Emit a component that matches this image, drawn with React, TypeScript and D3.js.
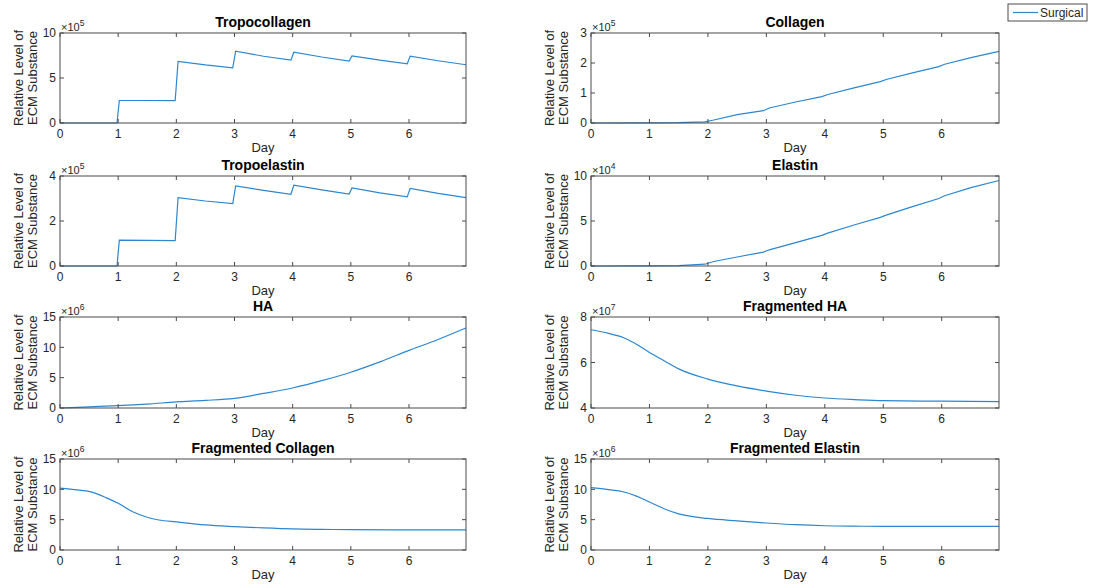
import React from "react";
import * as d3 from "d3";

// ---- Data (values in units of the panel's exponent) ----
const tropocollagenDays = [0, 0.98, 1.02, 1.5, 1.98, 2.03, 2.5, 2.97, 3.02, 3.5, 3.97, 4.02, 4.5, 4.97, 5.02, 5.5, 5.97, 6.02, 6.5, 6.98];
const tropocollagenVals = [0, 0, 2.5, 2.5, 2.48, 6.84, 6.45, 6.14, 7.98, 7.42, 6.99, 7.87, 7.33, 6.88, 7.46, 6.98, 6.58, 7.43, 6.92, 6.47];

const collagenDays = [0, 1, 1.5, 1.95, 2.1, 2.5, 2.95, 3.05, 3.5, 3.95, 4.05, 4.5, 4.95, 5.05, 5.5, 5.95, 6.05, 6.5, 6.98];
const collagenVals = [0, 0.005, 0.012, 0.04, 0.1, 0.28, 0.41, 0.5, 0.7, 0.88, 0.95, 1.17, 1.38, 1.45, 1.67, 1.88, 1.96, 2.18, 2.39];

const tropoelastinDays = [0, 0.98, 1.02, 1.5, 1.98, 2.03, 2.5, 2.97, 3.02, 3.5, 3.97, 4.02, 4.5, 4.97, 5.02, 5.5, 5.97, 6.02, 6.5, 6.98];
const tropoelastinVals = [0, 0, 1.15, 1.14, 1.13, 3.04, 2.89, 2.77, 3.56, 3.36, 3.19, 3.59, 3.38, 3.2, 3.47, 3.25, 3.07, 3.45, 3.23, 3.04];

const elastinDays = [0, 1, 1.5, 1.95, 2.1, 2.5, 2.95, 3.05, 3.5, 3.95, 4.05, 4.5, 4.95, 5.05, 5.5, 5.95, 6.05, 6.5, 6.98];
const elastinVals = [0, 0.02, 0.05, 0.2, 0.5, 1.0, 1.55, 1.8, 2.6, 3.4, 3.65, 4.55, 5.4, 5.65, 6.6, 7.5, 7.8, 8.7, 9.5];

const haDays = [0, 0.5, 1, 1.5, 2, 2.5, 3, 3.5, 4, 4.5, 5, 5.5, 6, 6.5, 6.98];
const haVals = [0, 0.2, 0.39, 0.65, 1.0, 1.25, 1.6, 2.4, 3.3, 4.5, 5.9, 7.6, 9.5, 11.3, 13.2];

const fragHADays = [0, 0.3, 0.55, 0.75, 1, 1.25, 1.5, 2, 2.5, 3, 3.5, 4, 4.5, 5, 6, 6.98];
const fragHAVals = [7.44, 7.28, 7.1, 6.85, 6.44, 6.08, 5.72, 5.27, 4.97, 4.74, 4.56, 4.44, 4.37, 4.32, 4.3, 4.28];

const fragCollagenDays = [0, 0.3, 0.55, 0.8, 1, 1.25, 1.5, 1.7, 2, 2.5, 3, 3.5, 4, 4.5, 5, 6, 6.98];
const fragCollagenVals = [10.2, 9.9, 9.55, 8.6, 7.7, 6.3, 5.4, 4.95, 4.63, 4.14, 3.86, 3.64, 3.47, 3.4, 3.36, 3.31, 3.31];

const fragElastinDays = [0, 0.3, 0.55, 0.8, 1, 1.25, 1.5, 2, 2.5, 3, 3.5, 4, 4.5, 5, 6, 6.98];
const fragElastinVals = [10.28, 9.95, 9.6, 8.8, 7.9, 6.8, 5.95, 5.2, 4.8, 4.45, 4.17, 4.0, 3.93, 3.9, 3.9, 3.9];

const xTicks = [0, 1, 2, 3, 4, 5, 6];
const legendLabel = "Surgical";

type Panel = {
  title: string;
  days: number[];
  vals: number[];
  yDomain: [number, number];
  yTicks: number[];
  exponent: string;
  col: number;
  row: number;
  smooth: boolean;
};

const panels: Panel[] = [
  { title: "Tropocollagen", days: tropocollagenDays, vals: tropocollagenVals, yDomain: [0, 10], yTicks: [0, 5, 10], exponent: "5", col: 0, row: 0, smooth: false },
  { title: "Collagen", days: collagenDays, vals: collagenVals, yDomain: [0, 3], yTicks: [0, 1, 2, 3], exponent: "5", col: 1, row: 0, smooth: false },
  { title: "Tropoelastin", days: tropoelastinDays, vals: tropoelastinVals, yDomain: [0, 4], yTicks: [0, 2, 4], exponent: "5", col: 0, row: 1, smooth: false },
  { title: "Elastin", days: elastinDays, vals: elastinVals, yDomain: [0, 10], yTicks: [0, 5, 10], exponent: "4", col: 1, row: 1, smooth: false },
  { title: "HA", days: haDays, vals: haVals, yDomain: [0, 15], yTicks: [0, 5, 10, 15], exponent: "6", col: 0, row: 2, smooth: true },
  { title: "Fragmented HA", days: fragHADays, vals: fragHAVals, yDomain: [4, 8], yTicks: [4, 6, 8], exponent: "7", col: 1, row: 2, smooth: true },
  { title: "Fragmented Collagen", days: fragCollagenDays, vals: fragCollagenVals, yDomain: [0, 15], yTicks: [0, 5, 10, 15], exponent: "6", col: 0, row: 3, smooth: true },
  { title: "Fragmented Elastin", days: fragElastinDays, vals: fragElastinVals, yDomain: [0, 15], yTicks: [0, 5, 10, 15], exponent: "6", col: 1, row: 3, smooth: true },
];

// ---- Layout ----
const W = 1098;
const H = 586;
const colX: [number, number][] = [[60, 466], [591, 999]];
const rowY: [number, number][] = [[33, 123], [176, 266], [317, 408], [459, 550]];
const X_MAX = 6.98;
const LINE = "#2b87d1";
const AXIS = "#4a4a4a";
const TEXT = "#262626";
const FONT = "'Liberation Sans', Arial, Helvetica, sans-serif";
const TICK = 4;

function PanelView({ p }: { p: Panel }) {
  const [x0, x1] = colX[p.col];
  const [y0, y1] = rowY[p.row];
  const x = d3.scaleLinear().domain([0, X_MAX]).range([x0, x1]);
  const y = d3.scaleLinear().domain(p.yDomain).range([y1, y0]);
  const pts = p.days.map((d, i) => [d, p.vals[i]] as [number, number]);
  const line = d3
    .line<[number, number]>()
    .x((d) => x(d[0]))
    .y((d) => y(d[1]))
    .curve(p.smooth ? d3.curveMonotoneX : d3.curveLinear);
  const cx = (x0 + x1) / 2;
  const cy = (y0 + y1) / 2;
  return (
    <g>
      <path d={line(pts) || ""} fill="none" stroke={LINE} strokeWidth={1.2} />
      <rect x={x0} y={y0} width={x1 - x0} height={y1 - y0} fill="none" stroke={AXIS} strokeWidth={1} />
      {xTicks.map((t) => (
        <g key={"x" + t}>
          <line x1={x(t)} x2={x(t)} y1={y1} y2={y1 - TICK} stroke={AXIS} />
          <line x1={x(t)} x2={x(t)} y1={y0} y2={y0 + TICK} stroke={AXIS} />
          <text x={x(t)} y={y1 + 14.5} textAnchor="middle" fontSize={12} fill={TEXT} fontFamily={FONT}>{t}</text>
        </g>
      ))}
      {p.yTicks.map((t) => (
        <g key={"y" + t}>
          <line x1={x0} x2={x0 + TICK} y1={y(t)} y2={y(t)} stroke={AXIS} />
          <line x1={x1} x2={x1 - TICK} y1={y(t)} y2={y(t)} stroke={AXIS} />
          <text x={x0 - 4} y={y(t) + 4.3} textAnchor="end" fontSize={12} fill={TEXT} fontFamily={FONT}>{t}</text>
        </g>
      ))}
      <text x={x0 + 1} y={y0 - 2.5} fontSize={11} fill={TEXT} fontFamily={FONT}>
        ×10<tspan fontSize={8.5} dy={-4.5}>{p.exponent}</tspan>
      </text>
      <text x={cx} y={y0 - 6} textAnchor="middle" fontSize={14} fontWeight="bold" fill="#000" fontFamily={FONT}>{p.title}</text>
      <text x={cx} y={y1 + 28.5} textAnchor="middle" fontSize={13} fill={TEXT} fontFamily={FONT}>Day</text>
      <g transform={`translate(${x0 - 37},${cy}) rotate(-90)`}>
        <text x={0} y={0} textAnchor="middle" fontSize={13} fill={TEXT} fontFamily={FONT}>Relative Level of</text>
        <text x={0} y={13.5} textAnchor="middle" fontSize={13} fill={TEXT} fontFamily={FONT}>ECM Substance</text>
      </g>
    </g>
  );
}

export default function App() {
  return (
    <svg width={W} height={H} style={{ position: "absolute", left: 0, top: 0, display: "block", background: "#fff" }}>
      <rect x={0} y={0} width={W} height={H} fill="#fff" />
      {panels.map((p) => (
        <PanelView key={p.title} p={p} />
      ))}
      <g>
        <rect x={1008} y={4} width={79} height={17} fill="#fff" stroke={AXIS} strokeWidth={1} />
        <line x1={1013} x2={1038} y1={12.5} y2={12.5} stroke={LINE} strokeWidth={1.2} />
        <text x={1040} y={16.5} fontSize={12} fill={TEXT} fontFamily={FONT}>{legendLabel}</text>
      </g>
    </svg>
  );
}
